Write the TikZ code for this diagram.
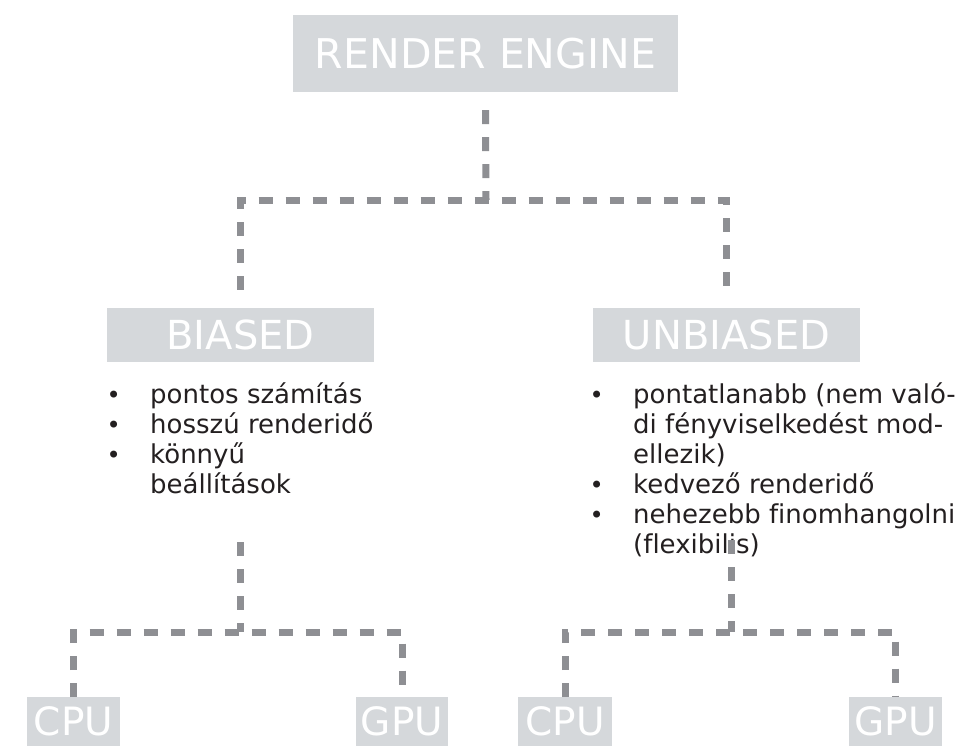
\documentclass[tikz,border=0pt]{standalone}
\usepackage{fontspec}
\setmainfont[Ligatures=NoCommon]{DejaVu Sans}
\usetikzlibrary{positioning,calc}
\definecolor{boxGray}{HTML}{D5D8DB}
\definecolor{lineGray}{HTML}{8E8F93}
\definecolor{inkDark}{HTML}{231F20}
\newcommand{\itm}{\makebox[0pt][r]{\fontsize{24}{24}\selectfont\textbullet\hspace{29.5pt}}}

\begin{document}
\begin{tikzpicture}[x=1pt,y=-1pt,
    box/.style={fill=boxGray,text=white,inner sep=0pt,text depth=0pt},
    link/.style={draw=lineGray,line width=7pt,dash pattern=on 14pt off 13pt},
    bullets/.style={text=inkDark,align=left,inner sep=0pt,anchor=north west,
          font=\fontsize{26}{30}\selectfont}]
    \useasboundingbox (0,0) rectangle (973,746);

    % boxes
    \node[box,minimum width=385pt,minimum height=77pt,text height=30.6pt,
          font=\fontsize{41}{41}\selectfont] (engine) at (485.5,53.5) {RENDER ENGINE};
    \node[box,minimum width=267pt,minimum height=54pt,text height=29pt,
          font=\fontsize{40}{40}\selectfont] (biased) at (240.5,335) {BIASED};
    \node[box,minimum width=267pt,minimum height=54pt,text height=29pt,
          font=\fontsize{40}{40}\selectfont] (unbiased) at (726.5,335) {UNBIASED};
    \node[box,anchor=north,minimum width=93pt,minimum height=49pt,text height=28.4pt,
          font=\fontsize{39}{39}\selectfont] (bcpu) at (73.5,697) {CPU};
    \node[box,anchor=north,minimum width=92pt,minimum height=49pt,text height=28.4pt,
          font=\fontsize{39}{39}\selectfont] (bgpu) at (402,697) {GPU};
    \node[box,anchor=north,minimum width=94pt,minimum height=49pt,text height=28.4pt,
          font=\fontsize{39}{39}\selectfont] (ucpu) at (565,697) {CPU};
    \node[box,anchor=north,minimum width=93pt,minimum height=49pt,text height=28.4pt,
          font=\fontsize{39}{39}\selectfont] (ugpu) at (895.5,697) {GPU};

    % lists (first baseline at y=403)
    \node[bullets] (blist) at (150,381) {\rule{0pt}{22pt}\itm pontos számítás\\
      \itm hosszú renderidő\\
      \itm könnyű\\
      beállítások};
    \node[bullets] (ulist) at (633,381) {\rule{0pt}{22pt}\itm pontatlanabb (nem való-\\
      di fényviselkedést mod-\\
      ellezik)\\
      \itm kedvező renderidő\\
      \itm nehezebb finomhangolni\\
      (flexibilis)};

    % connectors
    \coordinate (topsplit) at (486,200);
    \coordinate (bstem) at (240,542);
    \coordinate (bsplit) at (240,632);
    \coordinate (ustem) at (731,540);
    \coordinate (usplit) at (731,632);

    \draw[link] ([yshift=-18pt]engine.south) -- (topsplit);
    \draw[link] ([yshift=18pt]biased.north) |- (topsplit) -| ([yshift=18pt]unbiased.north);
    \draw[link] (bstem) -- (bsplit);
    \draw[link] (bcpu.north) |- (bsplit) -| (bgpu.north);
    \draw[link] (ustem) -- (usplit);
    \draw[link] (ucpu.north) |- (usplit) -| (ugpu.north);
\end{tikzpicture}
\end{document}
